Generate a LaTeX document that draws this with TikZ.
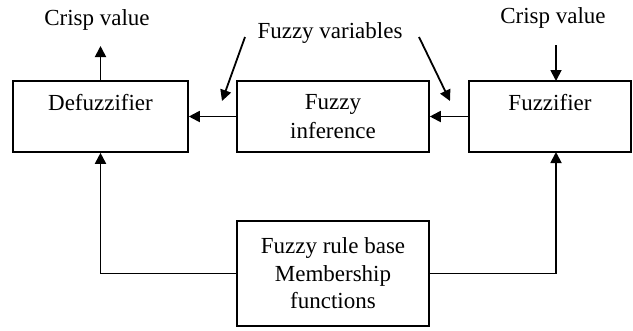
\documentclass[tikz,border=0pt]{standalone}
\usepackage{fontspec}
\setmainfont{Liberation Serif}
\usetikzlibrary{arrows.meta}
\begin{document}
\begin{tikzpicture}[x=1pt,y=-1pt,
  box/.style={draw,line width=1.6pt,inner sep=0pt,align=center,font=\fontsize{23}{29}\selectfont},
  lbl/.style={inner sep=0pt,font=\fontsize{23}{28}\selectfont},
  arr/.style={line width=1.8pt,-{Triangle[length=11pt,width=11pt]}}]
\useasboundingbox (0,0) rectangle (633,330);
\node[box,minimum width=175pt,minimum height=71pt] (defuz) at (100.5,116.5) {Defuzzifier\\\mbox{}};
\node[box,minimum width=192pt,minimum height=71pt] (inf) at (333,116.5) {Fuzzy\\inference};
\node[box,minimum width=162pt,minimum height=71pt] (fuzz) at (550,116.5) {Fuzzifier\\\mbox{}};
\node[box,minimum width=192pt,minimum height=105pt,font=\fontsize{23}{27.5}\selectfont] (rule) at (333,273.5) {Fuzzy rule base\\Membership\\functions};
\node[lbl] (crispL) at (97,20) {Crisp value};
\node[lbl] (crispR) at (553,18) {Crisp value};
\node[lbl] (fv) at (330,33) {Fuzzy variables};
\coordinate (outtip) at (100.5,46);
\coordinate (intail) at (556,45);
\coordinate (inhead) at (556,81);
\coordinate (dl1) at (245,37);
\coordinate (dl2) at (222,101);
\coordinate (dr1) at (419,37);
\coordinate (dr2) at (450,101);
\coordinate (fb) at (556,152);
\draw[arr] (defuz.north) -- (outtip);
\draw[arr] (intail) -- (inhead);
\draw[arr] (inf.west) -- (defuz.east);
\draw[arr] (fuzz.west) -- (inf.east);
\draw[arr] (dl1) -- (dl2);
\draw[arr] (dr1) -- (dr2);
\draw[arr] (rule.west) -| (defuz.south);
\draw[arr] (rule.east) -| (fb);
\end{tikzpicture}
\end{document}
